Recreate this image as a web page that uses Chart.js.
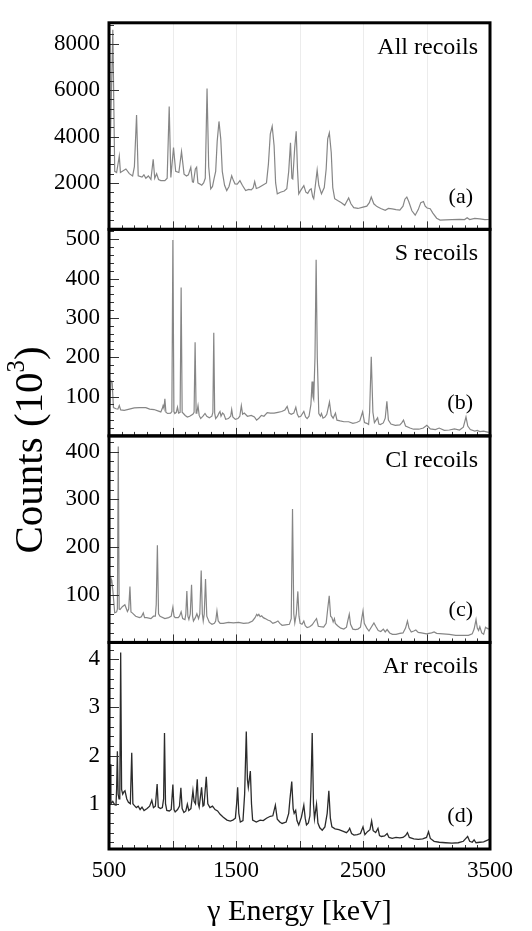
<!DOCTYPE html>
<html>
<head>
<meta charset="utf-8">
<script src="https://cdn.jsdelivr.net/npm/chart.js@4/dist/chart.umd.min.js"></script>
<style>
  html, body { margin: 0; padding: 0; background: #fff; }
  #wrap { position: relative; width: 532px; height: 931px; }
  #spectra { position: absolute; left: 0; top: 0; }
  #ylab {
    position: absolute; left: -122px; top: 425px; width: 300px; height: 50px;
    line-height: 50px; text-align: center; transform: rotate(-90deg);
    font-family: 'Liberation Serif', 'Times New Roman', serif; font-size: 41px; color: #000;
  }
  #ylab sup { font-size: 0.6em; line-height: 0; vertical-align: 0.75em; }
</style>
</head>
<body>
<div id="wrap">
  <canvas id="spectra" width="532" height="931"></canvas>
  <div id="ylab">Counts (10<sup>3</sup>)</div>
</div>
<script>
// [energy keV, counts]
const spectrumAll = [
  [505, 2300], [530, 8600], [545, 2500], [560, 2450], [581, 3160], [590, 2450], [633, 2600], [660, 2400],
  [686, 2300], [700, 2700], [717, 4930], [730, 2310], [760, 2250], [775, 2350], [790, 2200], [810, 2300],
  [830, 2150], [848, 3020], [860, 2200], [875, 2400], [890, 2150], [908, 2100], [940, 2100], [958, 2200],
  [974, 5290], [987, 2240], [1008, 3520], [1025, 2500], [1050, 2450], [1071, 3350], [1091, 2380], [1110, 2300],
  [1125, 2350], [1144, 2670], [1157, 2050], [1165, 2030], [1180, 2600], [1190, 2680], [1200, 2000], [1213, 1960],
  [1230, 1900], [1245, 2000], [1258, 2200], [1272, 6070], [1285, 2700], [1301, 1745], [1315, 1850], [1327, 2170],
  [1340, 2500], [1352, 3800], [1366, 4650], [1380, 3900], [1392, 2500], [1410, 1900], [1427, 1670], [1445, 1850],
  [1466, 2310], [1480, 2100], [1492, 1960], [1510, 1950], [1531, 2100], [1550, 1900], [1576, 1670], [1600, 1720],
  [1620, 1700], [1635, 1780], [1647, 2060], [1660, 1760], [1680, 1800], [1710, 1900], [1740, 2000], [1755, 2800],
  [1770, 4100], [1785, 4440], [1800, 3600], [1812, 2000], [1825, 1530], [1850, 1600], [1880, 1650], [1900, 1750],
  [1915, 2500], [1929, 3730], [1940, 2200], [1947, 2170], [1962, 3500], [1974, 4225], [1984, 2600], [1994, 1530],
  [2012, 1700], [2034, 1885], [2050, 1600], [2065, 1550], [2080, 1700], [2092, 1745], [2104, 1400], [2112, 1320],
  [2125, 1900], [2139, 2550], [2152, 1900], [2173, 1530], [2195, 1800], [2210, 2600], [2222, 3900], [2235, 4160],
  [2250, 3300], [2262, 1800], [2277, 1320], [2300, 1240], [2330, 1150], [2356, 1035], [2387, 1350], [2405, 1100],
  [2427, 935], [2460, 900], [2500, 960], [2530, 1000], [2550, 1150], [2565, 1390], [2585, 1100], [2610, 980],
  [2640, 900], [2675, 820], [2700, 900], [2730, 880], [2760, 850], [2790, 830], [2815, 1000], [2830, 1300],
  [2845, 1390], [2860, 1200], [2885, 800], [2911, 610], [2935, 850], [2955, 1150], [2976, 1200], [2990, 1000],
  [3005, 920], [3029, 890], [3050, 700], [3080, 480], [3107, 400], [3150, 410], [3200, 420], [3260, 430],
  [3300, 420], [3320, 500], [3340, 420], [3380, 470], [3420, 450], [3460, 420], [3490, 425]
];

const spectrumS = [
  [505, 60], [515, 140], [525, 135], [535, 72], [555, 69], [570, 68], [581, 77], [592, 66], [620, 65], [660, 68],
  [699, 71], [740, 72], [790, 72], [820, 68], [855, 67], [890, 63], [908, 61], [920, 70], [926, 77], [933, 70],
  [940, 94], [948, 60], [961, 57], [985, 58], [995, 62], [1003, 498], [1011, 62], [1018, 57], [1030, 60], [1039, 73],
  [1048, 58], [1060, 60], [1068, 377], [1076, 60], [1086, 57], [1100, 52], [1117, 48], [1135, 50], [1160, 55],
  [1170, 60], [1178, 238], [1186, 58], [1192, 60], [1201, 77], [1210, 52], [1222, 44], [1240, 50], [1256, 57],
  [1270, 50], [1290, 46], [1310, 50], [1318, 60], [1325, 262], [1332, 58], [1340, 44], [1355, 50], [1366, 58],
  [1374, 62], [1382, 50], [1394, 58], [1405, 55], [1419, 42], [1440, 44], [1458, 50], [1466, 67], [1475, 48],
  [1495, 42], [1515, 44], [1530, 50], [1542, 77], [1552, 55], [1565, 58], [1590, 50], [1620, 52], [1645, 48],
  [1662, 40], [1680, 45], [1700, 52], [1720, 50], [1746, 59], [1770, 58], [1800, 58], [1830, 60], [1860, 62],
  [1885, 66], [1903, 75], [1918, 58], [1935, 55], [1955, 58], [1971, 73], [1983, 55], [1994, 48], [2010, 50],
  [2034, 62], [2048, 48], [2060, 44], [2075, 50], [2090, 80], [2099, 138], [2106, 100], [2112, 93], [2122, 200],
  [2131, 448], [2140, 200], [2152, 57], [2165, 50], [2173, 57], [2185, 45], [2200, 48], [2215, 55], [2236, 86],
  [2250, 52], [2265, 45], [2283, 58], [2295, 40], [2320, 38], [2350, 36], [2387, 36], [2420, 32], [2450, 34],
  [2475, 38], [2497, 61], [2512, 34], [2530, 32], [2544, 29], [2552, 60], [2565, 201], [2578, 60], [2590, 34],
  [2615, 46], [2625, 30], [2636, 29], [2660, 33], [2675, 45], [2688, 88], [2700, 40], [2720, 30], [2754, 27],
  [2790, 28], [2805, 33], [2819, 40], [2835, 25], [2870, 20], [2898, 17], [2940, 17], [2975, 20], [3003, 27],
  [3030, 18], [3070, 16], [3100, 20], [3140, 14], [3180, 15], [3220, 18], [3260, 15], [3290, 22], [3311, 48],
  [3325, 25], [3345, 16], [3380, 12], [3400, 14], [3420, 11], [3450, 12], [3490, 9]
];

const spectrumCl = [
  [505, 60], [515, 135], [522, 130], [530, 110], [545, 62], [560, 64], [566, 70], [573, 411], [580, 70], [587, 69],
  [605, 75], [625, 79], [645, 65], [655, 70], [665, 117], [673, 64], [683, 62], [710, 55], [740, 52], [755, 54],
  [770, 62], [780, 52], [797, 52], [830, 50], [850, 55], [865, 55], [872, 80], [881, 204], [890, 60], [902, 55],
  [940, 50], [970, 52], [990, 55], [1003, 74], [1012, 55], [1021, 52], [1045, 52], [1055, 55], [1068, 64],
  [1080, 50], [1098, 48], [1105, 60], [1113, 108], [1121, 55], [1129, 48], [1140, 60], [1150, 121], [1158, 55],
  [1165, 45], [1180, 52], [1192, 60], [1205, 50], [1215, 60], [1226, 151], [1235, 60], [1242, 45], [1250, 60],
  [1260, 133], [1270, 55], [1290, 42], [1311, 38], [1330, 40], [1340, 45], [1350, 66], [1360, 45], [1375, 40],
  [1400, 40], [1440, 42], [1480, 41], [1520, 42], [1560, 40], [1600, 41], [1630, 45], [1650, 52], [1663, 59],
  [1671, 56], [1680, 59], [1690, 54], [1702, 56], [1715, 52], [1730, 50], [1750, 47], [1770, 45], [1790, 40],
  [1810, 42], [1830, 45], [1845, 40], [1863, 36], [1890, 37], [1920, 38], [1935, 50], [1945, 280], [1955, 60],
  [1963, 41], [1975, 60], [1987, 107], [1996, 55], [2005, 40], [2020, 38], [2034, 45], [2045, 35], [2060, 31],
  [2080, 33], [2100, 37], [2120, 45], [2134, 50], [2148, 34], [2165, 33], [2190, 32], [2210, 40], [2222, 70],
  [2234, 98], [2245, 55], [2255, 52], [2265, 43], [2275, 50], [2282, 40], [2300, 35], [2325, 30], [2349, 28],
  [2370, 32], [2380, 45], [2392, 59], [2402, 38], [2420, 28], [2440, 27], [2460, 28], [2480, 32], [2490, 50],
  [2500, 66], [2510, 40], [2530, 30], [2547, 24], [2565, 32], [2586, 41], [2600, 34], [2620, 25], [2640, 23],
  [2660, 28], [2675, 22], [2690, 27], [2710, 20], [2732, 17], [2760, 17], [2790, 19], [2815, 20], [2835, 30],
  [2850, 45], [2862, 30], [2880, 22], [2900, 24], [2916, 26], [2935, 21], [2960, 20], [3000, 18], [3040, 20],
  [3060, 22], [3080, 19], [3130, 18], [3180, 17], [3230, 15], [3280, 15], [3330, 15], [3360, 18], [3375, 28],
  [3390, 48], [3400, 30], [3410, 25], [3420, 33], [3435, 20], [3450, 17], [3465, 32], [3475, 30], [3490, 28]
];

const spectrumAr = [
  [503, 1.0], [508, 1.82], [515, 1.0], [530, 1.05], [545, 0.98], [555, 0.97], [560, 1.3], [566, 2.09], [572, 1.2],
  [579, 1.10], [585, 1.2], [592, 4.14], [599, 1.3], [608, 1.2], [618, 1.25], [626, 1.27], [640, 1.1], [653, 1.03],
  [668, 1.0], [679, 2.06], [688, 1.0], [697, 0.97], [715, 0.92], [730, 0.95], [745, 0.88], [760, 0.93], [776, 0.86],
  [800, 0.9], [820, 0.95], [837, 1.07], [850, 0.92], [865, 0.95], [879, 1.41], [888, 0.93], [905, 0.9], [920, 0.92],
  [930, 1.1], [937, 2.47], [945, 1.0], [955, 0.86], [975, 0.85], [990, 0.88], [1003, 1.40], [1012, 0.88],
  [1021, 0.83], [1040, 0.88], [1055, 0.95], [1066, 1.33], [1076, 0.9], [1090, 0.82], [1105, 0.85], [1117, 0.99],
  [1128, 0.86], [1145, 0.9], [1161, 1.27], [1170, 1.05], [1181, 1.0], [1195, 1.51], [1203, 1.0], [1210, 0.93],
  [1229, 1.34], [1240, 0.95], [1248, 0.97], [1266, 1.56], [1278, 1.0], [1295, 0.92], [1315, 0.95], [1335, 0.88],
  [1355, 0.85], [1375, 0.78], [1400, 0.72], [1429, 0.66], [1455, 0.64], [1475, 0.66], [1495, 0.7], [1505, 1.0],
  [1513, 1.34], [1522, 0.8], [1534, 0.62], [1555, 0.65], [1568, 1.2], [1581, 2.50], [1590, 1.5], [1597, 1.34],
  [1613, 1.68], [1622, 1.0], [1631, 0.66], [1660, 0.62], [1690, 0.66], [1715, 0.65], [1740, 0.7], [1770, 0.74],
  [1790, 0.75], [1810, 0.97], [1825, 0.68], [1845, 0.62], [1863, 0.59], [1895, 0.62], [1915, 0.8], [1925, 1.1],
  [1939, 1.46], [1950, 0.9], [1958, 0.8], [1970, 0.86], [1980, 0.65], [1994, 0.56], [2015, 0.72], [2034, 0.97],
  [2045, 0.7], [2055, 0.56], [2070, 0.6], [2082, 0.75], [2090, 1.3], [2100, 2.47], [2110, 1.0], [2118, 0.69],
  [2134, 0.99], [2145, 0.6], [2160, 0.5], [2179, 0.45], [2200, 0.52], [2218, 0.8], [2231, 1.27], [2243, 0.7],
  [2255, 0.52], [2280, 0.48], [2310, 0.46], [2340, 0.43], [2370, 0.4], [2385, 0.44], [2395, 0.49], [2410, 0.38],
  [2429, 0.35], [2455, 0.36], [2480, 0.38], [2500, 0.52], [2515, 0.36], [2535, 0.42], [2555, 0.46], [2568, 0.64],
  [2580, 0.44], [2600, 0.4], [2618, 0.49], [2630, 0.34], [2645, 0.32], [2670, 0.33], [2690, 0.38], [2705, 0.3],
  [2730, 0.28], [2760, 0.3], [2790, 0.29], [2815, 0.3], [2835, 0.34], [2850, 0.40], [2865, 0.3], [2900, 0.27],
  [2935, 0.26], [2970, 0.27], [3000, 0.3], [3016, 0.42], [3030, 0.28], [3060, 0.22], [3100, 0.2], [3150, 0.19],
  [3200, 0.18], [3250, 0.19], [3290, 0.22], [3310, 0.28], [3324, 0.32], [3340, 0.22], [3360, 0.2], [3375, 0.25],
  [3390, 0.19], [3420, 0.2], [3450, 0.21], [3494, 0.26]
];

const panelNames = ["All recoils", "S recoils", "Cl recoils", "Ar recoils"];
const panelTags = ["(a)", "(b)", "(c)", "(d)"];
const xTickLabels = [500, 1500, 2500, 3500];
const yTicksAll = [2000, 4000, 6000, 8000];
const yTicksS = [100, 200, 300, 400, 500];
const yTicksCl = [100, 200, 300, 400];
const yTicksAr = [1, 2, 3, 4];

const serif = "'Liberation Serif', 'Times New Roman', serif";
const panelIds = ["yA", "yB", "yC", "yD"];
const minorStep = { yA: 400, yB: 20, yC: 20, yD: 0.2 };

const toPoints = (rows) => rows.map(([e, c]) => ({ x: e, y: c }));

const yScale = (min, max, ticks) => ({
  type: "linear",
  position: "left",
  stack: "panels",
  stackWeight: 1,
  min: min,
  max: max,
  afterFit: (s) => { s.width = 109; },
  afterBuildTicks: (s) => { s.ticks = ticks.map((v) => ({ value: v })); },
  ticks: {
    color: "#000", padding: 9, autoSkip: false,
    font: { family: serif, size: 23 }, callback: (v) => String(v),
  },
  grid: { display: false, drawTicks: false },
  border: { display: false },
});

const panelDecor = {
  id: "panelDecor",
  beforeDatasetsDraw(chart) {
    const { ctx, chartArea } = chart;
    const x = chart.scales.x;
    ctx.save();
    ctx.strokeStyle = "#ececec";
    ctx.lineWidth = 1;
    for (let e = 1000; e < 3500; e += 500) {
      const px = Math.round(x.getPixelForValue(e)) + 0.5;
      ctx.beginPath();
      ctx.moveTo(px, chartArea.top);
      ctx.lineTo(px, chartArea.bottom);
      ctx.stroke();
    }
    ctx.restore();
  },
  afterDatasetsDraw(chart) {
    const { ctx, chartArea } = chart;
    const x = chart.scales.x;
    ctx.save();
    panelIds.forEach((id, i) => {
      const s = chart.scales[id];
      ctx.strokeStyle = "#333";
      ctx.lineWidth = 1;
      // energy ticks along the bottom of each panel
      for (let k = 0; k <= 30; k++) {
        const px = Math.round(x.getPixelForValue(500 + k * 100)) + 0.5;
        const len = k % 5 === 0 ? 8 : 4;
        ctx.beginPath();
        ctx.moveTo(px, s.bottom);
        ctx.lineTo(px, s.bottom - len);
        ctx.stroke();
      }
      // count ticks along the left edge
      const step = minorStep[id];
      const n = Math.floor(s.max / step + 1e-6);
      for (let k = Math.ceil(s.min / step - 1e-6); k <= n; k++) {
        const v = k * step;
        const py = Math.round(s.getPixelForValue(v)) + 0.5;
        if (py < s.top + 2 || py > s.bottom - 2) continue;
        const len = k % 5 === 0 ? 10 : 5;
        ctx.beginPath();
        ctx.moveTo(chartArea.left, py);
        ctx.lineTo(chartArea.left + len, py);
        ctx.stroke();
      }
      // frame
      ctx.strokeStyle = "#000";
      ctx.lineWidth = 3;
      ctx.strokeRect(chartArea.left, s.top, chartArea.right - chartArea.left, s.bottom - s.top);
      // labels
      ctx.fillStyle = "#000";
      ctx.textAlign = "right";
      ctx.textBaseline = "alphabetic";
      ctx.font = "24px " + serif;
      ctx.fillText(panelNames[i], 478, s.top + 31);
      ctx.font = "22px " + serif;
      ctx.fillText(panelTags[i], 473, s.top + 180);
    });
    ctx.restore();
  },
};

const chart = new Chart(document.getElementById("spectra"), {
  type: "line",
  data: {
    datasets: [
      { data: toPoints(spectrumAll), yAxisID: "yA", borderColor: "#868686", borderWidth: 1.2, pointRadius: 0, tension: 0 },
      { data: toPoints(spectrumS), yAxisID: "yB", borderColor: "#868686", borderWidth: 1.2, pointRadius: 0, tension: 0 },
      { data: toPoints(spectrumCl), yAxisID: "yC", borderColor: "#868686", borderWidth: 1.2, pointRadius: 0, tension: 0 },
      { data: toPoints(spectrumAr), yAxisID: "yD", borderColor: "#2b2b2b", borderWidth: 1.3, pointRadius: 0, tension: 0 },
    ],
  },
  options: {
    responsive: false,
    animation: false,
    events: [],
    layout: { padding: { top: 11, right: 42, left: 0, bottom: 0 } },
    plugins: { legend: { display: false }, tooltip: { enabled: false } },
    scales: {
      x: {
        type: "linear",
        min: 500,
        max: 3500,
        afterFit: (s) => { s.height = 82; },
        afterBuildTicks: (s) => { s.ticks = xTickLabels.map((v) => ({ value: v })); },
        ticks: { color: "#000", padding: 8, maxRotation: 0, autoSkip: false, font: { family: serif, size: 23 }, callback: (v) => String(v) },
        grid: { display: false, drawTicks: false },
        border: { display: false },
        title: { display: true, text: "γ Energy [keV]", color: "#000", font: { family: serif, size: 30 }, padding: { top: 0, bottom: 1 } },
      },
      yD: yScale(0.06, 4.35, yTicksAr),
      yC: yScale(0, 433, yTicksCl),
      yB: yScale(0, 525, yTicksS),
      yA: yScale(0, 8900, yTicksAll),
    },
  },
  plugins: [panelDecor],
});
</script>
</body>
</html>
